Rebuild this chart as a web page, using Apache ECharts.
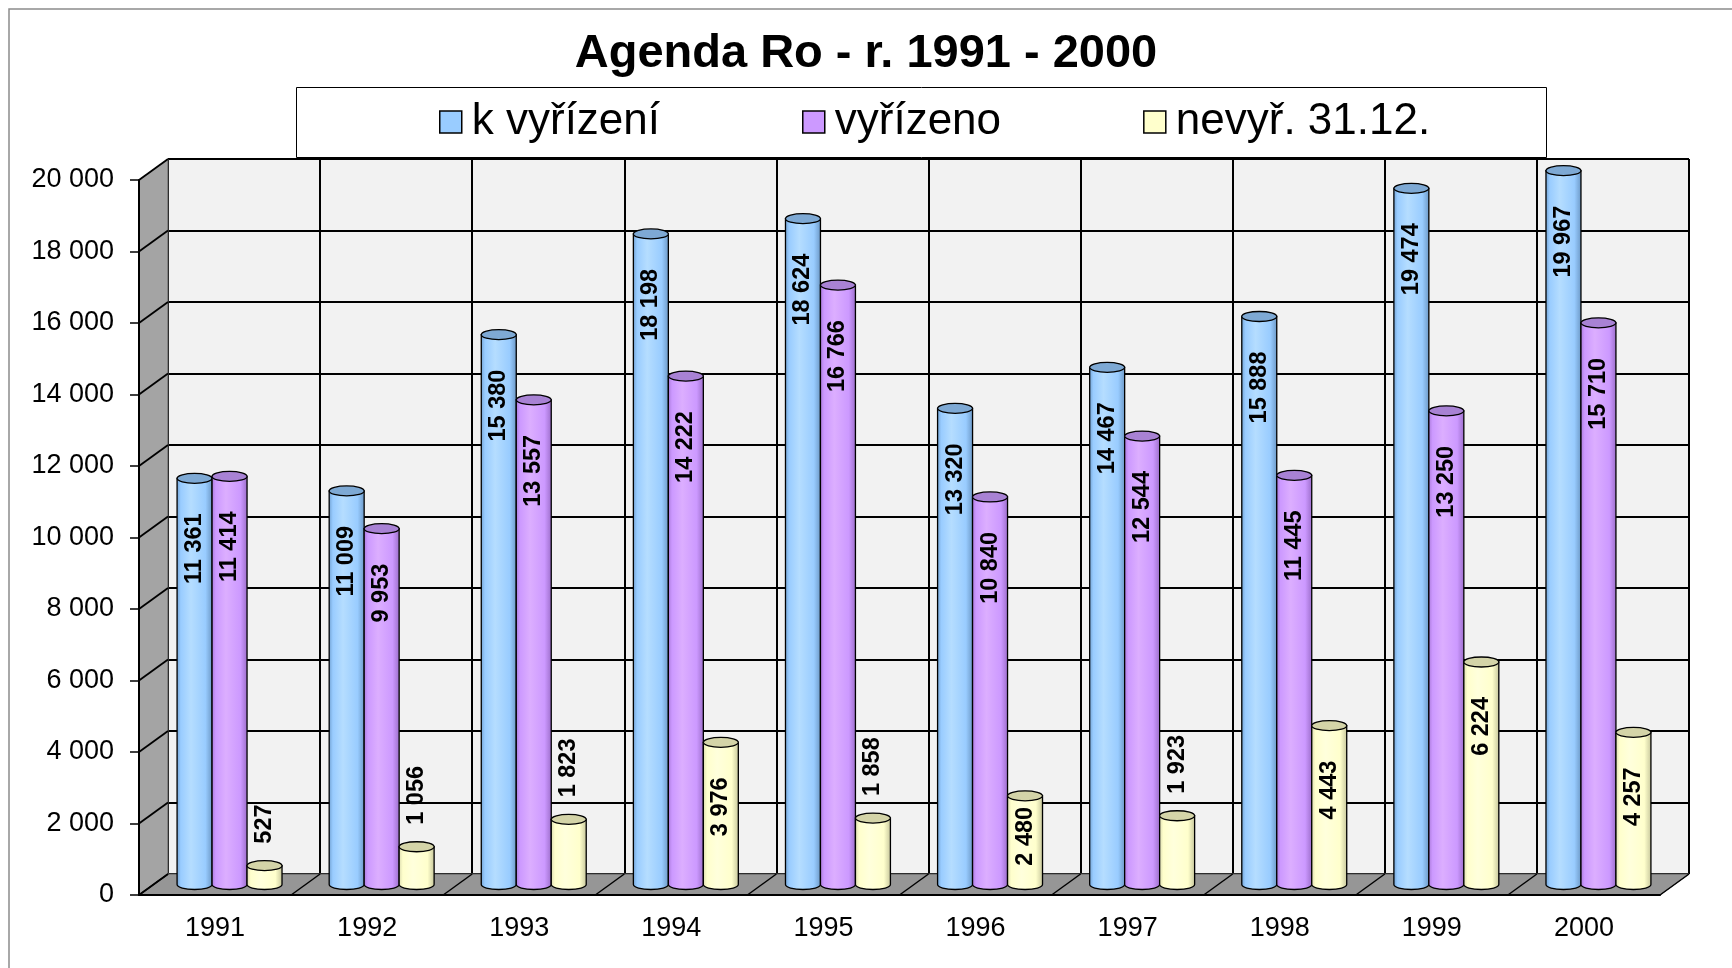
<!DOCTYPE html>
<html>
<head>
<meta charset="utf-8">
<title>Agenda Ro - r. 1991 - 2000</title>
<script src="https://cdn.jsdelivr.net/npm/echarts@6/dist/echarts.min.js"></script>
<style>
  html, body { margin: 0; padding: 0; background: #fff; }
  #chart { width: 1732px; height: 968px; }
</style>
</head>
<body>
<div id="chart"></div>
<script>
// data
var years = ['1991', '1992', '1993', '1994', '1995', '1996', '1997', '1998', '1999', '2000'];
var kVyrizeni = [11361, 11009, 15380, 18198, 18624, 13320, 14467, 15888, 19474, 19967];
var vyrizeno = [11414, 9953, 13557, 14222, 16766, 10840, 12544, 11445, 13250, 15710];
var nevyr = [527, 1056, 1823, 3976, 1858, 2480, 1923, 4443, 6224, 4257];
var yTicks = [0, 2000, 4000, 6000, 8000, 10000, 12000, 14000, 16000, 18000, 20000];

var FONT = '"Liberation Sans", Arial, sans-serif';
var DX = 29, DY = 21;           // depth of the 3D box
var PLOT = { left: 139, top: 180, width: 1521, height: 715 };

function fmt(v) {
    return String(v).replace(/\B(?=(\d{3})+(?!\d))/g, ' ');
}

function pairs(arr) {
    return arr.map(function (v, i) { return [i, v]; });
}

// cylinder bars
function cylinder(slot, c) {
    return function (params, api) {
        var cat = api.value(0), val = api.value(1);
        var top = api.coord([cat, val]);
        var base = api.coord([cat, 0]);
        var band = api.size([1, 0])[0];
        var w = band * 0.23;
        var rx = w / 2, ry = 5;
        var cx = top[0] + slot * w;
        var l = cx - rx, r = cx + rx;
        var ty = top[1], by = base[1];

        var body = 'M' + l + ',' + ty + ' L' + l + ',' + by +
            ' A' + rx + ',' + ry + ' 0 0 0 ' + r + ',' + by +
            ' L' + r + ',' + ty + ' Z';
        var cap = 'M' + l + ',' + ty +
            ' A' + rx + ',' + ry + ' 0 1 0 ' + r + ',' + ty +
            ' A' + rx + ',' + ry + ' 0 1 0 ' + l + ',' + ty + ' Z';

        var grad = new echarts.graphic.LinearGradient(0, 0, 1, 0, [
            {offset: 0, color: c.edge},
            {offset: 0.12, color: c.mid},
            {offset: 0.4, color: c.light},
            {offset: 0.8, color: c.mid},
            {offset: 1, color: c.dark}
        ]);

        var txt = fmt(val);
        var digits = txt.replace(/ /g, '').length;
        var len = (digits * 0.556 + (txt.length - digits) * 0.278) * 23.5;
        var h = by - ty;
        var label;
        if (len + 42 < h) {
            label = {x: cx, y: ty + 35, align: 'right'};
        } else if (len + 14 < h) {
            label = {x: cx, y: ty + 11, align: 'right'};
        } else {
            label = {x: cx, y: ty - 22, align: 'left'};
        }

        return {
            type: 'group',
            children: [
                {type: 'path', shape: {pathData: body},
                    style: {fill: grad, stroke: '#000', lineWidth: 1.3}},
                {type: 'path', shape: {pathData: cap},
                    style: {fill: c.cap, stroke: '#000', lineWidth: 1.3}},
                {type: 'text', x: label.x, y: label.y, rotation: Math.PI / 2,
                    style: {text: txt, fill: '#000', font: 'bold 23.5px ' + FONT,
                        align: label.align, verticalAlign: 'middle'}}
            ]
        };
    };
}

var blue = {edge: '#6f9fd0', mid: '#99ccff', light: '#b5ddff', dark: '#6a96c4', cap: '#7ea9d4'};
var purple = {edge: '#a878d8', mid: '#cc99ff', light: '#dcaeff', dark: '#9a6cc8', cap: '#a882d4'};
var yellow = {edge: '#d8d8ac', mid: '#ffffcc', light: '#ffffdc', dark: '#c4c49a', cap: '#d4d4a8'};

var myChart = echarts.init(document.getElementById('chart'), null, {renderer: 'canvas'});

var option = {
    backgroundColor: '#fff',
    animation: false,
    title: {
        text: 'Agenda Ro - r. 1991 - 2000',
        left: 'center',
        top: 26,
        textStyle: {fontFamily: FONT, fontSize: 47, fontWeight: 'bold', color: '#000'}
    },
    legend: {
        left: 439,
        top: 100,
        padding: 0,
        itemGap: 142,
        itemWidth: 22,
        itemHeight: 22,
        icon: 'rect',
        itemStyle: {borderColor: '#000', borderWidth: 1.5},
        textStyle: {fontFamily: FONT, fontSize: 44, color: '#000', padding: [2, 0, 0, 5]},
        data: ['k vyřízení', 'vyřízeno', 'nevyř. 31.12.'],
        selectedMode: false
    },
    graphic: [
        {type: 'rect', silent: true, z: -10,
            shape: {x: 9, y: 9, width: 1740, height: 980},
            style: {fill: 'none', stroke: '#8c8c8c', lineWidth: 1.5}},
        {type: 'rect', silent: true, z: -5,
            shape: {x: 296.5, y: 87.5, width: 1250, height: 70},
            style: {fill: '#fff', stroke: '#000', lineWidth: 1}}
    ],
    grid: [
        // front face: axes and labels
        {left: PLOT.left, top: PLOT.top, width: PLOT.width, height: PLOT.height},
        // back wall
        {left: PLOT.left + DX, top: PLOT.top - DY, width: PLOT.width, height: PLOT.height,
            show: true, backgroundColor: '#f2f2f2', borderWidth: 0},
        // mid plane where the cylinders stand
        {left: PLOT.left + DX / 2, top: PLOT.top - DY / 2, width: PLOT.width, height: PLOT.height}
    ],
    xAxis: [
        {gridIndex: 0, type: 'category', data: years, z: 5,
            axisLine: {lineStyle: {color: '#000', width: 2}},
            axisTick: {length: 8, lineStyle: {color: '#000', width: 1.5}},
            axisLabel: {margin: 20, fontFamily: FONT, fontSize: 27, color: '#000'},
            splitLine: {show: false}},
        {gridIndex: 1, type: 'category', data: years,
            axisLine: {show: false}, axisTick: {show: false}, axisLabel: {show: false},
            splitLine: {show: true, interval: 0, lineStyle: {color: '#000', width: 2}}},
        {gridIndex: 2, type: 'category', data: years, show: false}
    ],
    yAxis: [
        {gridIndex: 0, type: 'value', min: 0, max: 20000, interval: 2000, z: 5,
            axisLine: {show: true, lineStyle: {color: '#000', width: 2}},
            axisTick: {show: true, length: 9, lineStyle: {color: '#000', width: 1.5}},
            axisLabel: {margin: 25, fontFamily: FONT, fontSize: 27, color: '#000', formatter: fmt},
            splitLine: {show: false}},
        {gridIndex: 1, type: 'value', min: 0, max: 20000, interval: 2000,
            axisLine: {show: false}, axisTick: {show: false}, axisLabel: {show: false},
            splitLine: {show: true, lineStyle: {color: '#000', width: 2}}},
        {gridIndex: 2, type: 'value', min: 0, max: 20000, interval: 2000, show: false,
            splitLine: {show: false}}
    ],
    series: [
        {
            // side wall and floor of the box
            name: 'box', type: 'custom', xAxisIndex: 0, yAxisIndex: 0, z: 1, silent: true,
            data: [[0, 0]],
            renderItem: function (params, api) {
                var cs = params.coordSys;
                var x = cs.x, y = cs.y, w = cs.width, h = cs.height;
                var kids = [
                    {type: 'polygon', shape: {points: [[x, y], [x + DX, y - DY], [x + DX, y + h - DY], [x, y + h]]},
                        style: {fill: '#a4a4a4', stroke: '#5a5a5a', lineWidth: 1}},
                    {type: 'polygon', shape: {points: [[x, y + h], [x + DX, y + h - DY], [x + w + DX, y + h - DY], [x + w, y + h]]},
                        style: {fill: '#969696', stroke: '#5a5a5a', lineWidth: 1}}
                ];
                var n = years.length;
                for (var i = 0; i <= n; i++) {
                    var bx = x + i * w / n;
                    kids.push({type: 'line', shape: {x1: bx, y1: y + h, x2: bx + DX, y2: y + h - DY},
                        style: {stroke: '#000', lineWidth: 1.5}});
                }
                return {type: 'group', children: kids};
            }
        },
        {
            // diagonal tick lines on the side wall
            name: 'ticks', type: 'custom', xAxisIndex: 0, yAxisIndex: 0, z: 1, silent: true,
            data: yTicks.map(function (v) { return [0, v]; }),
            renderItem: function (params, api) {
                var p = api.coord([0, api.value(1)]);
                var x = params.coordSys.x;
                return {type: 'line', shape: {x1: x, y1: p[1], x2: x + DX, y2: p[1] - DY},
                    style: {stroke: '#000', lineWidth: 1.8}};
            }
        },
        {name: 'k vyřízení', type: 'custom', xAxisIndex: 2, yAxisIndex: 2, z: 3,
            itemStyle: {color: '#99ccff'}, data: pairs(kVyrizeni), renderItem: cylinder(-1, blue)},
        {name: 'vyřízeno', type: 'custom', xAxisIndex: 2, yAxisIndex: 2, z: 3,
            itemStyle: {color: '#cc99ff'}, data: pairs(vyrizeno), renderItem: cylinder(0, purple)},
        {name: 'nevyř. 31.12.', type: 'custom', xAxisIndex: 2, yAxisIndex: 2, z: 3,
            itemStyle: {color: '#ffffcc'}, data: pairs(nevyr), renderItem: cylinder(1, yellow)}
    ]
};
myChart.setOption(option, true);
</script>
</body>
</html>
